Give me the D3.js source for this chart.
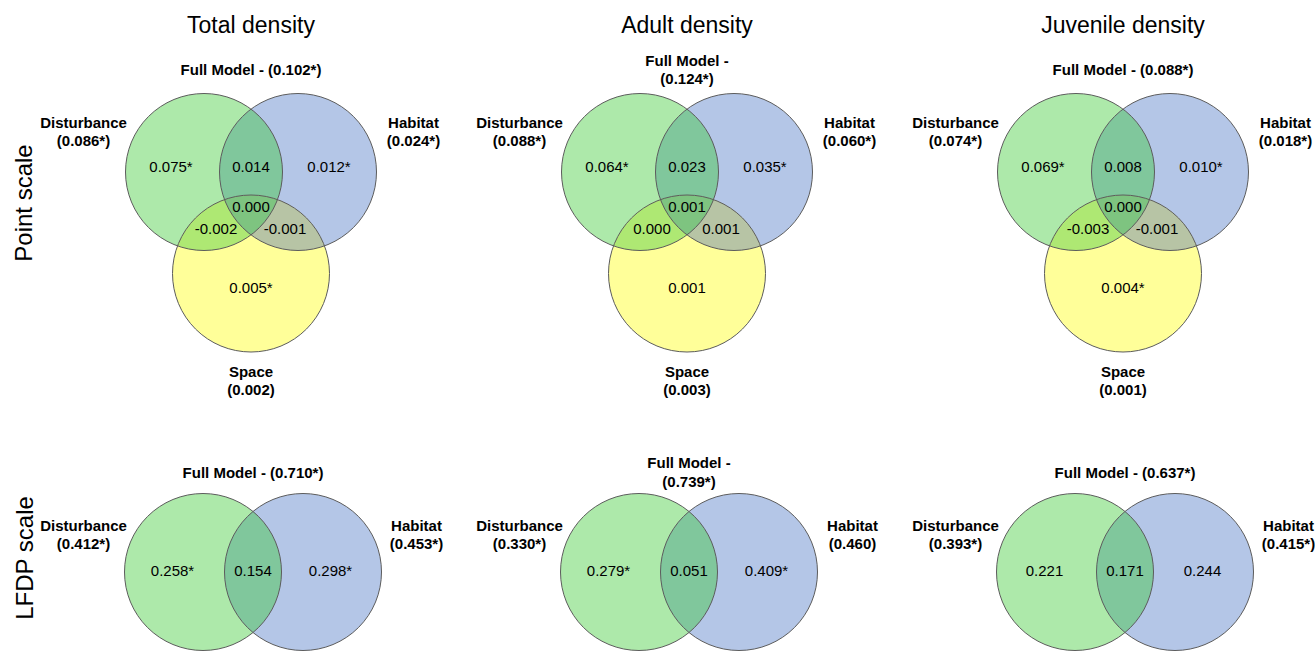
<!DOCTYPE html>
<html>
<head>
<meta charset="utf-8">
<script src="https://cdn.jsdelivr.net/npm/d3@7"></script>
<style>
  body { margin: 0; background: #fff; }
  svg { display: block; font-family: "Liberation Sans", Arial, sans-serif; }
</style>
</head>
<body>
<svg id="chart" width="1315" height="651"></svg>
<script>
// Variance partitioning of density: three responses (columns) at two scales (rows)
const responses = ["Total density", "Adult density", "Juvenile density"];
const scales = ["Point scale", "LFDP scale"];
const setNames = ["Disturbance", "Habitat", "Space"];

// Point scale: adjusted R² of each model (1 = significant)
const pointFull = [0.102, 0.124, 0.088];
const pointFullSig = [1, 1, 1];
const pointDisturbance = [0.086, 0.088, 0.074];
const pointDisturbanceSig = [1, 1, 1];
const pointHabitat = [0.024, 0.060, 0.018];
const pointHabitatSig = [1, 1, 1];
const pointSpace = [0.002, 0.003, 0.001];
const pointSpaceSig = [0, 0, 0];

// Point scale: unique and shared fractions
const pointDistOnly = [0.075, 0.064, 0.069];
const pointDistOnlySig = [1, 1, 1];
const pointHabOnly = [0.012, 0.035, 0.010];
const pointHabOnlySig = [1, 1, 1];
const pointSpaceOnly = [0.005, 0.001, 0.004];
const pointSpaceOnlySig = [1, 0, 1];
const pointDistHab = [0.014, 0.023, 0.008];
const pointDistSpace = [-0.002, 0.000, -0.003];
const pointHabSpace = [-0.001, 0.001, -0.001];
const pointAllThree = [0.000, 0.001, 0.000];

// LFDP scale: adjusted R² of each model
const lfdpFull = [0.710, 0.739, 0.637];
const lfdpFullSig = [1, 1, 1];
const lfdpDisturbance = [0.412, 0.330, 0.393];
const lfdpDisturbanceSig = [1, 1, 1];
const lfdpHabitat = [0.453, 0.460, 0.415];
const lfdpHabitatSig = [1, 0, 1];

// LFDP scale: unique and shared fractions
const lfdpDistOnly = [0.258, 0.279, 0.221];
const lfdpDistOnlySig = [1, 1, 0];
const lfdpHabOnly = [0.298, 0.409, 0.244];
const lfdpHabOnlySig = [1, 1, 0];
const lfdpShared = [0.154, 0.051, 0.171];

const f3 = d3.format(".3f");
const fmt = (v, sig) => f3(v).replace("\u2212", "-") + (sig ? "*" : "");

const colors = {
  dist: "#ade9aa", hab: "#b4c6e7", space: "#ffff99",
  distHab: "#80c79c", distSpace: "#aee873", habSpace: "#b7c4a5", all: "#7ec480",
  stroke: "#5c5c5c"
};

const svg = d3.select("#chart");
const defs = svg.append("defs");

const colX = d3.scalePoint().domain(responses).range([251, 1123]);
const rowY = d3.scalePoint().domain(scales).range([172, 572]);
const R = 78.5;

function clip(id, cx, cy) {
  defs.append("clipPath").attr("id", id)
    .append("circle").attr("cx", cx).attr("cy", cy).attr("r", R);
  return `url(#${id})`;
}

function circle(g, p, fill) {
  return g.append("circle").attr("cx", p.x).attr("cy", p.y).attr("r", R).attr("fill", fill);
}

function text(g, x, y, str, opts = {}) {
  return g.append("text")
    .attr("x", x).attr("y", y)
    .attr("text-anchor", opts.anchor || "middle")
    .attr("font-size", opts.size || 15)
    .attr("font-weight", opts.bold ? "bold" : "normal")
    .attr("fill", "#000")
    .text(str);
}

// Column titles
responses.forEach(r => text(svg, colX(r), 33, r, { size: 23 }));

// Row titles
scales.forEach((s, k) => {
  svg.append("text")
    .attr("transform", `translate(${k === 0 ? 32 : 33},${k === 0 ? 203 : 558}) rotate(-90)`)
    .attr("text-anchor", "middle")
    .attr("font-size", 24)
    .attr("fill", "#000")
    .text(s);
});

function fullModelLabel(g, x, yOne, yTwo, value, wrap) {
  if (wrap) {
    text(g, x, yTwo[0], "Full Model -", { bold: true });
    text(g, x, yTwo[1], `(${value})`, { bold: true });
  } else {
    text(g, x, yOne, `Full Model - (${value})`, { bold: true });
  }
}

// Point scale: three-set diagrams
responses.forEach((resp, i) => {
  const c = colX(resp);
  const cy = rowY("Point scale");
  const g = svg.append("g");
  const A = { x: c - 47, y: cy };
  const B = { x: c + 47, y: cy };
  const C = { x: c, y: cy + 101.5 };
  const clipA = clip(`p-a-${i}`, A.x, A.y);
  const clipB = clip(`p-b-${i}`, B.x, B.y);

  circle(g, A, colors.dist);
  circle(g, B, colors.hab);
  circle(g, C, colors.space);
  circle(g, B, colors.distHab).attr("clip-path", clipA);
  circle(g, C, colors.distSpace).attr("clip-path", clipA);
  circle(g, C, colors.habSpace).attr("clip-path", clipB);
  circle(g.append("g").attr("clip-path", clipB), C, colors.all).attr("clip-path", clipA);
  [A, B, C].forEach(p => circle(g, p, "none")
    .attr("stroke", colors.stroke).attr("stroke-width", 1));

  // fractions
  text(g, A.x - 33, cy, fmt(pointDistOnly[i], pointDistOnlySig[i]));
  text(g, c, cy, fmt(pointDistHab[i], 0));
  text(g, B.x + 31, cy, fmt(pointHabOnly[i], pointHabOnlySig[i]));
  text(g, c, cy + 40, fmt(pointAllThree[i], 0));
  text(g, c - 35, cy + 61.5, fmt(pointDistSpace[i], 0));
  text(g, c + 34, cy + 61.5, fmt(pointHabSpace[i], 0));
  text(g, c, cy + 121, fmt(pointSpaceOnly[i], pointSpaceOnlySig[i]));

  // set labels
  fullModelLabel(g, c, 75, [66, 84], fmt(pointFull[i], pointFullSig[i]), i === 1);
  const lx = A.x - R - 42, rx = B.x + R + 37;
  text(g, lx, 128, setNames[0], { bold: true });
  text(g, lx, 146, `(${fmt(pointDisturbance[i], pointDisturbanceSig[i])})`, { bold: true });
  text(g, rx, 128, setNames[1], { bold: true });
  text(g, rx, 146, `(${fmt(pointHabitat[i], pointHabitatSig[i])})`, { bold: true });
  text(g, c, 377, setNames[2], { bold: true });
  text(g, c, 395, `(${fmt(pointSpace[i], pointSpaceSig[i])})`, { bold: true });
});

// LFDP scale: two-set diagrams
responses.forEach((resp, i) => {
  const c = colX(resp) + 2;
  const cy = rowY("LFDP scale");
  const g = svg.append("g");
  const A = { x: c - 50, y: cy };
  const B = { x: c + 50, y: cy };
  const clipA = clip(`l-a-${i}`, A.x, A.y);

  circle(g, A, colors.dist);
  circle(g, B, colors.hab);
  circle(g, B, colors.distHab).attr("clip-path", clipA);
  [A, B].forEach(p => circle(g, p, "none")
    .attr("stroke", colors.stroke).attr("stroke-width", 1));

  text(g, A.x - 30.5, cy + 3.5, fmt(lfdpDistOnly[i], lfdpDistOnlySig[i]));
  text(g, c, cy + 3.5, fmt(lfdpShared[i], 0));
  text(g, B.x + 27.5, cy + 3.5, fmt(lfdpHabOnly[i], lfdpHabOnlySig[i]));

  fullModelLabel(g, c, 478, [468, 486.5], fmt(lfdpFull[i], lfdpFullSig[i]), i === 1);
  const lx = A.x - R - 41, rx = B.x + R + 35;
  text(g, lx, 530.5, setNames[0], { bold: true });
  text(g, lx, 548.5, `(${fmt(lfdpDisturbance[i], lfdpDisturbanceSig[i])})`, { bold: true });
  text(g, rx, 530.5, setNames[1], { bold: true });
  text(g, rx, 548.5, `(${fmt(lfdpHabitat[i], lfdpHabitatSig[i])})`, { bold: true });
});
</script>
</body>
</html>
